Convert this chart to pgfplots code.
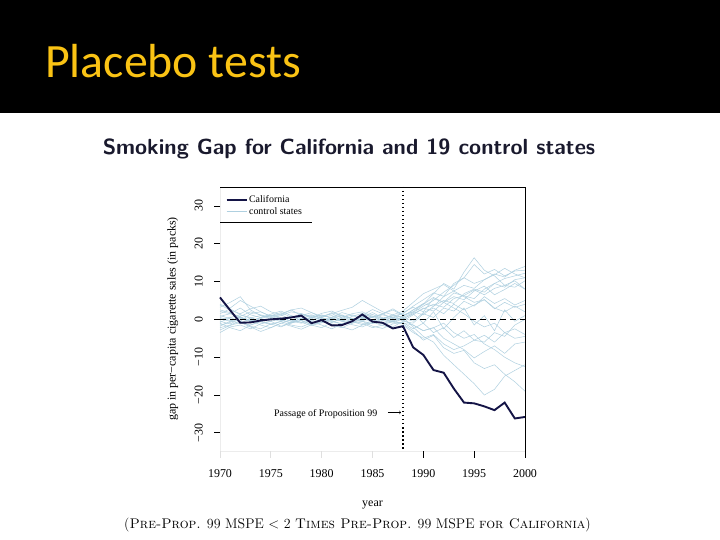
\documentclass[border=0pt]{standalone}
\usepackage{fontspec}
\usepackage{pgfplots}
\pgfplotsset{compat=1.18}
\newfontfamily\timesf{Liberation Serif}
\newfontfamily\carlito{Carlito}
\definecolor{gold}{RGB}{250,195,20}
\definecolor{navy}{RGB}{20,20,70}
\definecolor{ctrl}{RGB}{175,208,224}
\definecolor{titlec}{RGB}{25,25,45}
\begin{document}
\begin{tikzpicture}
\useasboundingbox (0bp,0bp) rectangle (720bp,540bp);
\fill[white] (0bp,0bp) rectangle (720bp,540bp);
\fill[black] (0bp,427bp) rectangle (720bp,540bp);
\node[anchor=base west, inner sep=0pt, text=gold, font=\carlito\fontsize{48}{52}\selectfont] at (45bp,462bp) {Placebo tests};
\node[anchor=base, inner sep=0pt, text=titlec, font=\sffamily\bfseries\fontsize{22}{25}\selectfont] at (349bp,385bp) {Smoking Gap for California and 19 control states};
\node[anchor=base, inner sep=0pt, font=\fontsize{14}{16}\selectfont] at (357.5bp,12bp) {(\textsc{Pre-Prop.} 99 MSPE $<$ 2 \textsc{Times Pre-Prop.} 99 MSPE \textsc{for California})};
\begin{axis}[
  at={(220bp,89bp)}, anchor=south west, scale only axis,
  width=305bp, height=264bp,
  xmin=1970, xmax=2000, ymin=-34.8, ymax=35.0,
  clip=false,
  axis x line*=bottom, axis y line*=left,
  axis line style={gray!15, line width=0.7pt, -},
  tick align=outside, tickwidth=6bp,
  major tick style={draw=black, line width=0.8pt},
  xtick={1970,1975,1980,1985,1990,1995,2000},
  xticklabels={1970,1975,1980,1985,1990,1995,2000},
  ytick={-30,-20,-10,0,10,20,30}, yticklabels={−30,−20,−10,0,10,20,30},
  tick label style={font=\timesf\fontsize{12}{14}\selectfont, inner sep=0pt},
  yticklabel style={rotate=90, anchor=south},
  xticklabel style={anchor=north},
  yticklabel shift=11bp, xticklabel shift=12bp,
  xlabel={year}, ylabel={gap in per−capita cigarette sales (in packs)},
  label style={font=\timesf\fontsize{12}{14}\selectfont, inner sep=0pt},
  xlabel style={at={(axis description cs:0.5,-0.21)}, anchor=base},
  ylabel style={at={(axis description cs:-0.1459,0.5)}, anchor=base},
  legend style={at={(axis description cs:0,1)}, anchor=north west, draw=none, fill=none,
    font=\timesf\fontsize{10}{11}\selectfont, inner sep=0pt, row sep=0pt,
    nodes={inner sep=1.5bp}, xshift=5.5bp, yshift=-7bp},
  legend cell align=left,
  legend image code/.code={\draw[#1] (0bp,0bp) -- (20bp,0bp);},
  ctrlst/.style={color=ctrl, line width=0.5pt, forget plot},
]
\addlegendimage{color=navy, line width=1.9pt}
\addlegendentry{California}
\addlegendimage{color=ctrl, line width=0.5pt}
\addlegendentry{control states}
\addplot[ctrlst] coordinates {(1970,2.1)(1971,1.5)(1972,3.0)(1973,1.2)(1974,0.5)(1975,1.0)(1976,0.3)(1977,-0.5)(1978,0.8)(1979,1.2)(1980,0.4)(1981,-0.3)(1982,0.6)(1983,1.5)(1984,2.0)(1985,0.8)(1986,0.2)(1987,0.9)(1988,1.5)(1989,3.5)(1990,5.2)(1991,7.0)(1992,6.1)(1993,9.5)(1994,11.0)(1995,14.5)(1996,12.0)(1997,13.2)(1998,11.5)(1999,12.8)(2000,13.0)};
\addplot[ctrlst] coordinates {(1970,-1.5)(1971,-0.8)(1972,0.5)(1973,-0.2)(1974,-1.0)(1975,-0.5)(1976,0.2)(1977,0.8)(1978,-0.4)(1979,-1.2)(1980,-0.6)(1981,0.3)(1982,0.9)(1983,0.2)(1984,-0.5)(1985,-1.1)(1986,-0.3)(1987,0.4)(1988,0.1)(1989,1.5)(1990,2.8)(1991,4.0)(1992,3.2)(1993,5.5)(1994,6.3)(1995,7.8)(1996,6.5)(1997,8.2)(1998,9.0)(1999,8.5)(2000,10.2)};
\addplot[ctrlst] coordinates {(1970,3.2)(1971,4.5)(1972,6.0)(1973,2.5)(1974,1.0)(1975,0.2)(1976,-0.6)(1977,0.5)(1978,1.4)(1979,0.3)(1980,-0.8)(1981,0.5)(1982,1.2)(1983,0.0)(1984,0.7)(1985,1.8)(1986,0.4)(1987,-0.5)(1988,0.8)(1989,2.5)(1990,4.0)(1991,6.8)(1992,9.5)(1993,8.0)(1994,12.5)(1995,16.3)(1996,13.0)(1997,11.5)(1998,9.0)(1999,10.2)(2000,8.0)};
\addplot[ctrlst] coordinates {(1970,0.5)(1971,-0.3)(1972,-1.2)(1973,0.4)(1974,1.0)(1975,0.6)(1976,-0.2)(1977,-0.9)(1978,-0.3)(1979,0.5)(1980,1.1)(1981,0.3)(1982,-0.5)(1983,-1.0)(1984,0.2)(1985,0.6)(1986,1.2)(1987,0.5)(1988,-0.4)(1989,1.2)(1990,3.0)(1991,2.2)(1992,4.5)(1993,6.0)(1994,5.2)(1995,7.5)(1996,8.8)(1997,6.5)(1998,7.9)(1999,9.5)(2000,8.0)};
\addplot[ctrlst] coordinates {(1970,-3.5)(1971,-2.0)(1972,-1.5)(1973,-2.5)(1974,-1.2)(1975,-0.5)(1976,-1.8)(1977,-1.0)(1978,-0.2)(1979,-1.5)(1980,-2.2)(1981,-0.8)(1982,0.2)(1983,-0.6)(1984,-1.4)(1985,-0.3)(1986,-1.0)(1987,-2.0)(1988,-0.5)(1989,-1.0)(1990,1.5)(1991,0.5)(1992,3.0)(1993,2.2)(1994,4.8)(1995,3.5)(1996,6.0)(1997,4.2)(1998,5.5)(1999,3.8)(2000,5.0)};
\addplot[ctrlst] coordinates {(1970,1.0)(1971,0.2)(1972,-0.5)(1973,1.5)(1974,2.0)(1975,0.8)(1976,1.2)(1977,0.0)(1978,-0.8)(1979,0.4)(1980,1.6)(1981,2.2)(1982,0.9)(1983,0.3)(1984,-0.2)(1985,0.6)(1986,1.4)(1987,2.5)(1988,1.0)(1989,2.0)(1990,1.2)(1991,3.5)(1992,5.0)(1993,4.2)(1994,6.8)(1995,8.0)(1996,7.2)(1997,9.5)(1998,10.8)(1999,11.5)(2000,12.2)};
\addplot[ctrlst] coordinates {(1970,-0.8)(1971,0.5)(1972,1.2)(1973,0.3)(1974,-0.6)(1975,-1.4)(1976,-0.5)(1977,0.4)(1978,1.0)(1979,1.8)(1980,0.5)(1981,-0.4)(1982,-1.2)(1983,-0.3)(1984,0.8)(1985,1.3)(1986,0.2)(1987,-0.7)(1988,0.4)(1989,-0.5)(1990,1.8)(1991,3.0)(1992,1.5)(1993,4.0)(1994,2.5)(1995,3.8)(1996,5.2)(1997,2.8)(1998,4.5)(1999,3.2)(2000,4.0)};
\addplot[ctrlst] coordinates {(1970,2.5)(1971,1.8)(1972,0.6)(1973,-0.4)(1974,0.5)(1975,1.4)(1976,2.2)(1977,1.0)(1978,0.3)(1979,-0.5)(1980,0.8)(1981,1.5)(1982,0.4)(1983,-0.2)(1984,1.1)(1985,2.6)(1986,1.5)(1987,0.2)(1988,1.8)(1989,3.2)(1990,2.0)(1991,5.5)(1992,4.5)(1993,7.0)(1994,6.2)(1995,5.5)(1996,8.0)(1997,9.5)(1998,8.5)(1999,10.5)(2000,11.0)};
\addplot[ctrlst] coordinates {(1970,-2.2)(1971,-1.5)(1972,-0.4)(1973,-1.8)(1974,-2.5)(1975,-1.2)(1976,-0.6)(1977,-1.5)(1978,-2.0)(1979,-0.9)(1980,-0.3)(1981,-1.6)(1982,-2.2)(1983,-1.0)(1984,-0.5)(1985,-1.8)(1986,-2.4)(1987,-1.2)(1988,-0.8)(1989,-2.5)(1990,-1.0)(1991,-3.5)(1992,-2.2)(1993,-4.8)(1994,-3.0)(1995,-5.5)(1996,-4.2)(1997,-6.0)(1998,-3.5)(1999,-5.0)(2000,-4.5)};
\addplot[ctrlst] coordinates {(1970,1.5)(1971,2.8)(1972,1.2)(1973,0.5)(1974,-0.5)(1975,0.2)(1976,1.0)(1977,2.0)(1978,1.5)(1979,0.6)(1980,-0.2)(1981,-0.8)(1982,0.3)(1983,1.2)(1984,0.5)(1985,-0.4)(1986,0.2)(1987,1.0)(1988,-0.2)(1989,-1.5)(1990,-3.0)(1991,-2.2)(1992,-5.0)(1993,-6.5)(1994,-8.0)(1995,-10.2)(1996,-8.5)(1997,-7.0)(1998,-9.0)(1999,-6.5)(2000,-6.0)};
\addplot[ctrlst] coordinates {(1970,-1.0)(1971,-2.2)(1972,-3.0)(1973,-1.5)(1974,-0.5)(1975,-1.2)(1976,-2.0)(1977,-0.8)(1978,0.2)(1979,-0.6)(1980,-1.5)(1981,-2.5)(1982,-1.2)(1983,-0.4)(1984,-1.0)(1985,-2.2)(1986,-1.5)(1987,-0.5)(1988,-1.2)(1989,-3.0)(1990,-5.5)(1991,-4.2)(1992,-7.5)(1993,-9.0)(1994,-8.2)(1995,-11.5)(1996,-13.0)(1997,-12.0)(1998,-14.5)(1999,-16.5)(2000,-19.0)};
\addplot[ctrlst] coordinates {(1970,0.2)(1971,-0.5)(1972,0.8)(1973,2.0)(1974,1.2)(1975,0.5)(1976,-0.3)(1977,0.4)(1978,1.5)(1979,0.8)(1980,-0.2)(1981,0.6)(1982,1.8)(1983,1.0)(1984,0.2)(1985,-0.6)(1986,0.3)(1987,1.2)(1988,0.5)(1989,-2.0)(1990,-4.5)(1991,-6.0)(1992,-9.5)(1993,-12.0)(1994,-14.5)(1995,-17.0)(1996,-20.0)(1997,-18.5)(1998,-15.0)(1999,-13.5)(2000,-12.0)};
\addplot[ctrlst] coordinates {(1970,-0.5)(1971,-1.2)(1972,0.2)(1973,-0.6)(1974,0.5)(1975,1.2)(1976,0.4)(1977,-0.5)(1978,-1.0)(1979,-0.2)(1980,0.6)(1981,1.0)(1982,-0.2)(1983,-0.8)(1984,0.3)(1985,0.9)(1986,-0.3)(1987,-1.0)(1988,0.2)(1989,1.5)(1990,-1.0)(1991,2.0)(1992,-2.5)(1993,0.5)(1994,3.0)(1995,-1.5)(1996,1.0)(1997,-3.0)(1998,2.5)(1999,-0.5)(2000,1.0)};
\addplot[ctrlst] coordinates {(1970,3.8)(1971,2.5)(1972,1.5)(1973,2.8)(1974,3.5)(1975,2.0)(1976,1.2)(1977,2.5)(1978,3.0)(1979,1.8)(1980,0.8)(1981,1.5)(1982,2.4)(1983,3.2)(1984,5.0)(1985,3.5)(1986,2.0)(1987,1.2)(1988,2.2)(1989,4.5)(1990,6.8)(1991,8.0)(1992,9.2)(1993,7.5)(1994,6.0)(1995,4.5)(1996,5.2)(1997,3.0)(1998,2.0)(1999,3.5)(2000,2.0)};
\addplot[ctrlst] coordinates {(1970,-2.8)(1971,-1.6)(1972,-0.8)(1973,-2.0)(1974,-3.2)(1975,-2.2)(1976,-1.0)(1977,-1.8)(1978,-2.6)(1979,-1.4)(1980,-0.6)(1981,-1.2)(1982,-2.0)(1983,-2.8)(1984,-1.5)(1985,-0.8)(1986,-1.6)(1987,-2.4)(1988,-1.5)(1989,-3.5)(1990,-5.0)(1991,-4.0)(1992,-6.5)(1993,-8.0)(1994,-7.0)(1995,-5.5)(1996,-6.0)(1997,-3.5)(1998,-4.5)(1999,-1.5)(2000,0.0)};
\addplot[ctrlst] coordinates {(1970,0.8)(1971,1.5)(1972,0.4)(1973,-0.5)(1974,0.2)(1975,1.0)(1976,1.8)(1977,0.6)(1978,-0.2)(1979,0.5)(1980,1.2)(1981,0.4)(1982,-0.4)(1983,0.8)(1984,1.6)(1985,0.5)(1986,-0.2)(1987,0.6)(1988,0.8)(1989,2.5)(1990,4.2)(1991,3.5)(1992,6.0)(1993,7.5)(1994,9.0)(1995,8.2)(1996,10.5)(1997,11.8)(1998,13.5)(1999,12.0)(2000,11.0)};
\addplot[ctrlst] coordinates {(1970,-1.8)(1971,-0.5)(1972,0.6)(1973,-0.3)(1974,-1.5)(1975,-2.2)(1976,-1.0)(1977,-0.2)(1978,-0.8)(1979,-1.6)(1980,-0.9)(1981,0.2)(1982,-0.5)(1983,-1.4)(1984,-2.0)(1985,-0.8)(1986,0.0)(1987,-0.6)(1988,-1.0)(1989,-1.5)(1990,-3.0)(1991,-2.2)(1992,-1.0)(1993,-3.5)(1994,-5.0)(1995,-4.0)(1996,-6.5)(1997,-8.0)(1998,-10.0)(1999,-11.5)(2000,-12.5)};
\addplot[ctrlst] coordinates {(1970,4.0)(1971,3.0)(1972,5.0)(1973,3.5)(1974,2.0)(1975,0.8)(1976,1.5)(1977,2.5)(1978,1.0)(1979,-0.2)(1980,0.5)(1981,1.8)(1982,1.0)(1983,0.2)(1984,-0.4)(1985,0.6)(1986,1.5)(1987,2.8)(1988,1.2)(1989,2.0)(1990,4.0)(1991,5.8)(1992,4.5)(1993,3.0)(1994,1.5)(1995,-0.5)(1996,-2.0)(1997,-1.0)(1998,-3.5)(1999,-2.5)(2000,-4.0)};
\addplot[ctrlst] coordinates {(1970,-0.2)(1971,0.6)(1972,-0.8)(1973,-1.5)(1974,-0.5)(1975,0.4)(1976,-0.2)(1977,-1.0)(1978,0.3)(1979,1.0)(1980,0.2)(1981,-0.6)(1982,-1.2)(1983,-0.2)(1984,0.6)(1985,-0.5)(1986,-1.1)(1987,-0.3)(1988,0.5)(1989,1.8)(1990,3.5)(1991,5.0)(1992,7.2)(1993,9.0)(1994,11.0)(1995,9.5)(1996,10.5)(1997,12.0)(1998,11.2)(1999,13.0)(2000,14.0)};
\draw[black, line width=1.2pt, dash pattern=on 6bp off 4bp] (axis cs:1970,0) -- (axis cs:2000,0);
\draw[black, line width=1.5pt, dash pattern=on 1.5bp off 2.5bp] (axis cs:1988,35) -- (axis cs:1988,-34.8);
\addplot[color=navy, line width=1.9pt, forget plot] coordinates {(1970,5.8)(1971,2.4)(1972,-0.9)(1973,-0.8)(1974,-0.3)(1975,0.0)(1976,0.2)(1977,0.5)(1978,1.0)(1979,-1.0)(1980,-0.2)(1981,-1.6)(1982,-1.5)(1983,-0.5)(1984,1.3)(1985,-0.6)(1986,-0.9)(1987,-2.4)(1988,-1.8)(1989,-7.4)(1990,-9.4)(1991,-13.4)(1992,-14.1)(1993,-18.3)(1994,-22.0)(1995,-22.2)(1996,-23.0)(1997,-24.0)(1998,-22.0)(1999,-26.2)(2000,-25.8)};
\draw[black, line width=0.8pt] (rel axis cs:0,1) -- (rel axis cs:1,1) -- (rel axis cs:1,0);
\pgfplotsinvokeforeach{-30,-20,-10,0,10,20,30}{\draw[black, line width=0.8pt] (axis cs:1970,#1) -- ++(-6bp,0bp);}
\pgfplotsinvokeforeach{1970,1975,1980,1985}{\draw[gray!25, line width=0.8pt] (axis cs:#1,-34.8) -- ++(0bp,-7bp);}
\pgfplotsinvokeforeach{1990,1995,2000}{\draw[black, line width=0.8pt] (axis cs:#1,-34.8) -- ++(0bp,-7bp);}
\draw[black, line width=0.7pt] (axis cs:1970,25.6) -- (axis cs:1979,25.6);
\node[anchor=base east, inner sep=0pt, font=\timesf\fontsize{10}{11}\selectfont] at (axis cs:1985.5,-25.6) {Passage of Proposition 99};
\draw[->, line width=0.4pt] (axis cs:1986.5,-24.6) -- (axis cs:1987.8,-24.6);
\end{axis}
\end{tikzpicture}
\end{document}
